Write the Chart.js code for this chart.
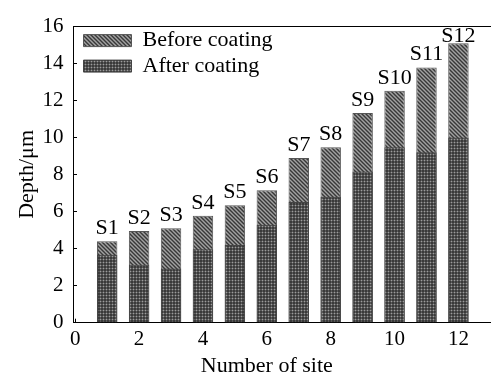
<!DOCTYPE html>
<html>
<head>
<meta charset="utf-8">
<script src="https://cdn.jsdelivr.net/npm/chart.js@4/dist/chart.umd.min.js"></script>
<style>
html,body{margin:0;padding:0;background:#fff;}
canvas{display:block;}
</style>
</head>
<body>
<canvas id="c" width="491" height="376"></canvas>
<script>
// ---- data ----
const sites = [1, 2, 3, 4, 5, 6, 7, 8, 9, 10, 11, 12];
const siteLabels = ['S1','S2','S3','S4','S5','S6','S7','S8','S9','S10','S11','S12'];
const beforeCoating = [4.40, 4.94, 5.10, 5.77, 6.33, 7.15, 8.89, 9.47, 11.31, 12.51, 13.77, 15.08];
const afterCoating  = [3.66, 3.13, 2.92, 3.96, 4.19, 5.28, 6.51, 6.79, 8.15, 9.47, 9.20, 9.99];
const seriesNames = ['Before coating', 'After coating'];
const xTickValues = [0, 2, 4, 6, 8, 10, 12];
const yTickValues = [0, 2, 4, 6, 8, 10, 12, 14, 16];
const xTitle = 'Number of site';
const yTitle = 'Depth/\u03bcm';

// ---- styles ----
const SERIF = '"Liberation Serif", "Times New Roman", serif';
Chart.defaults.font.family = SERIF;
Chart.defaults.color = '#000';

const canvas = document.getElementById('c');
const ctx = canvas.getContext('2d');

function hatchPattern() {
  const c = document.createElement('canvas');
  c.width = 4; c.height = 4;
  const g = c.getContext('2d');
  g.fillStyle = '#a2a2a2';
  g.fillRect(0, 0, 4, 4);
  g.strokeStyle = '#383838';
  g.lineWidth = 1.4;
  g.beginPath();
  g.moveTo(-1, -1); g.lineTo(5, 5);
  g.moveTo(-1, 3); g.lineTo(1, 5);
  g.moveTo(3, -1); g.lineTo(5, 1);
  g.stroke();
  return ctx.createPattern(c, 'repeat');
}
function dotPattern() {
  const c = document.createElement('canvas');
  c.width = 3; c.height = 3;
  const g = c.getContext('2d');
  g.fillStyle = '#3a3a3a';
  g.fillRect(0, 0, 3, 3);
  g.fillStyle = '#5a5a5a';
  g.fillRect(0, 1, 3, 1);
  g.fillRect(1, 0, 1, 3);
  g.fillStyle = '#9c9c9c';
  g.fillRect(1, 1, 1, 1);
  return ctx.createPattern(c, 'repeat');
}

const siteLabelPlugin = {
  id: 'siteLabels',
  afterDatasetsDraw(chart) {
    const meta = chart.getDatasetMeta(0);
    const c = chart.ctx;
    c.save();
    c.font = '22px ' + SERIF;
    c.fillStyle = '#000';
    c.textAlign = 'center';
    c.textBaseline = 'alphabetic';
    meta.data.forEach((bar, i) => {
      const y = Math.max(bar.y - 7, chart.chartArea.top + 16);
      c.fillText(siteLabels[i], bar.x, y);
    });
    c.restore();
  }
};

const xTitlePlugin = {
  id: 'xTitle',
  afterDraw(chart) {
    const s = chart.scales.x;
    const c = chart.ctx;
    const mid = (xTickValues[0] + xTickValues[xTickValues.length - 1]) / 2;
    c.save();
    c.font = '22px ' + SERIF;
    c.fillStyle = '#000';
    c.textAlign = 'center';
    c.textBaseline = 'alphabetic';
    c.fillText(xTitle, s.getPixelForValue(mid), chart.chartArea.bottom + 49);
    c.restore();
  }
};

const legendPlacePlugin = {
  id: 'legendPlace',
  afterLayout(chart) {
    const l = chart.legend;
    if (!l) return;
    const w = l.width, h = l.height;
    l.left = chart.chartArea.left + 7;
    l.top = chart.chartArea.top;
    l.right = l.left + w;
    l.bottom = l.top + h;
  }
};

new Chart(ctx, {
  type: 'bar',
  data: {
    datasets: [
      {
        label: seriesNames[0],
        data: sites.map((s, i) => ({ x: s, y: beforeCoating[i] })),
        backgroundColor: hatchPattern(),
        borderColor: '#555',
        borderWidth: 1,
        order: 1
      },
      {
        label: seriesNames[1],
        data: sites.map((s, i) => ({ x: s, y: afterCoating[i] })),
        backgroundColor: dotPattern(),
        borderColor: '#444',
        borderWidth: 1,
        order: 0
      }
    ]
  },
  options: {
    responsive: false,
    animation: false,
    devicePixelRatio: 1,
    grouped: false,
    categoryPercentage: 1,
    barPercentage: 0.64,
    layout: { padding: { top: 19.5, right: 0, bottom: 0, left: 0 } },
    plugins: {
      tooltip: { enabled: false },
      legend: {
        position: 'chartArea',
        align: 'start',
        labels: {
          boxWidth: 48,
          boxHeight: 12,
          padding: 3.5,
          color: '#000',
          font: { size: 22, family: SERIF },
          sort: (a, b) => a.datasetIndex - b.datasetIndex
        }
      }
    },
    scales: {
      x: {
        type: 'linear',
        position: 'bottom',
        min: -0.07,
        max: 13.02,
        offset: false,
        afterBuildTicks: s => { s.ticks = xTickValues.map(v => ({ value: v })); },
        afterFit: s => { s.height = 53.3; },
        grid: { offset: false, drawOnChartArea: false, drawTicks: true, tickLength: -4, color: '#000', tickColor: '#000', tickWidth: 1 },
        border: { display: true, color: '#000', width: 1 },
        ticks: { color: '#000', padding: 8, maxRotation: 0, font: { size: 21, family: SERIF } },
        title: { display: false }
      },
      xTop: {
        type: 'linear',
        position: 'top',
        min: -0.07,
        max: 13.02,
        afterFit: s => { s.height = 0; },
        grid: { drawOnChartArea: false, drawTicks: false },
        border: { display: true, color: '#000', width: 1 },
        ticks: { display: false }
      },
      y: {
        type: 'linear',
        position: 'left',
        min: 0,
        max: 16,
        afterBuildTicks: s => { s.ticks = yTickValues.map(v => ({ value: v })); },
        afterFit: s => { s.width = 73; },
        grid: { drawOnChartArea: false, drawTicks: true, tickLength: -4, color: '#000', tickColor: '#000', tickWidth: 1 },
        border: { display: true, color: '#000', width: 1 },
        ticks: { color: '#000', padding: 13.5, font: { size: 21, family: SERIF } },
        title: { display: true, text: yTitle, color: '#000', padding: { top: 14, bottom: 0 }, font: { size: 22, family: SERIF } }
      }
    }
  },
  plugins: [siteLabelPlugin, xTitlePlugin, legendPlacePlugin]
});
</script>
</body>
</html>
